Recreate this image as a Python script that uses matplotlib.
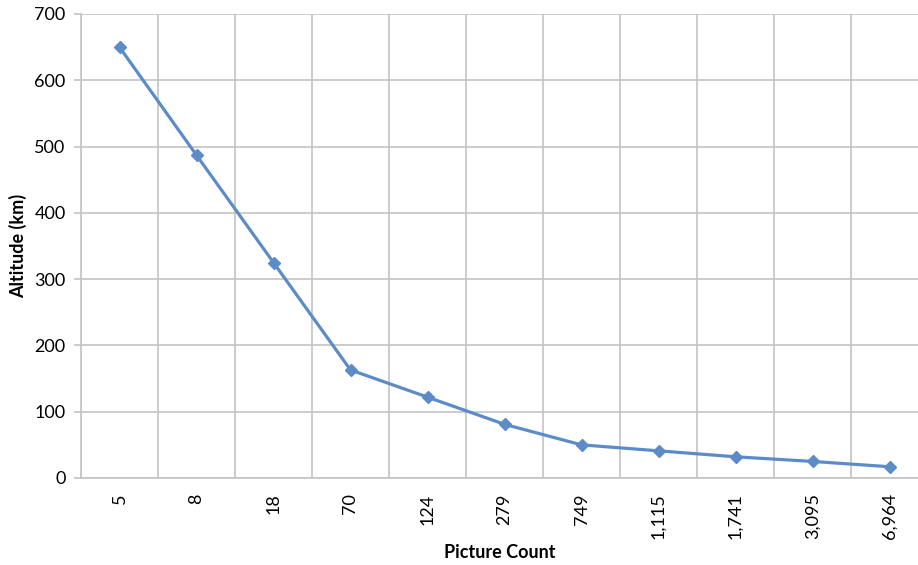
import matplotlib
matplotlib.use("Agg")
import matplotlib.pyplot as plt

picture_counts = ["5", "8", "18", "70", "124", "279", "749", "1,115", "1,741", "3,095", "6,964"]
altitude_km = [650, 487, 325, 163, 122, 81, 50, 41, 32, 25, 17]
y_ticks = [0, 100, 200, 300, 400, 500, 600, 700]

plt.rcParams["font.family"] = ["Lato", "DejaVu Sans"]

W, H = 918, 565
fig = plt.figure(figsize=(W / 100, H / 100), dpi=100)
ax = fig.add_axes([81 / W, (H - 478) / H, 1 - 81 / W, (478 - 14) / H])

grid_c = "#c4c4c4"
x = list(range(len(picture_counts)))
ax.plot(x, altitude_km, color="#5b8cc8", lw=2.3, marker="D", ms=6,
        markerfacecolor="#5b8cc8", markeredgecolor="#5b8cc8", zorder=3, clip_on=False)

ax.set_ylim(0, 700)
ax.set_yticks(y_ticks)
ax.set_yticklabels([str(v) for v in y_ticks], fontsize=13)
step_px = 77.0
ax.set_xlim(-0.5, -0.5 + (W - 81) / step_px)
ax.set_xticks(x)
ax.set_xticklabels(picture_counts, rotation=90, fontsize=13)

# horizontal grid at the value ticks, vertical grid at category boundaries
for v in y_ticks:
    ax.axhline(v, color=grid_c, lw=1.2, zorder=1)
for b in range(len(picture_counts) + 1):
    ax.axvline(b - 0.5, color=grid_c, lw=1.2, zorder=1)

for s in ["top", "right"]:
    ax.spines[s].set_visible(False)
for s in ["left", "bottom"]:
    ax.spines[s].set_color(grid_c)
    ax.spines[s].set_linewidth(1.2)

ax.tick_params(axis="y", length=5, color=grid_c, width=1.2, pad=6)
ax.tick_params(axis="x", length=0, pad=11)

fig.text(500 / W, 1 - 553 / H, "Picture Count", fontsize=13, fontweight="bold",
         ha="center", va="center")
fig.text(18 / W, 1 - 246 / H, "Altitude (km)", fontsize=13, fontweight="bold",
         ha="center", va="center", rotation=90)

fig.savefig("out.png", dpi=100)
